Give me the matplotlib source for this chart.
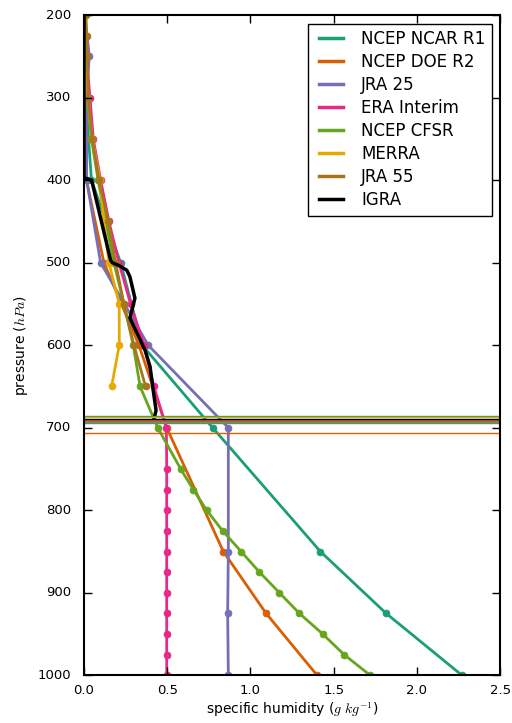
import numpy as np
import matplotlib
matplotlib.use("Agg")
import matplotlib.pyplot as plt
from matplotlib.lines import Line2D

# Dataset names and colours (legend order)
names = ['NCEP NCAR R1', 'NCEP DOE R2', 'JRA 25', 'ERA Interim',
         'NCEP CFSR', 'MERRA', 'JRA 55', 'IGRA']
colors = ['#1b9e77', '#d95f02', '#7570b3', '#e7298a',
          '#66a61e', '#e6ab02', '#a6761d', 'black']

# Specific humidity profiles (g/kg) on pressure levels (hPa)
p_r1 = [1000, 925, 850, 700, 600, 500, 400, 300]
q_r1 = [2.27, 1.815, 1.42, 0.773, 0.35, 0.22, 0.045, 0.01]

p_r2 = [1000, 925, 850, 700, 600, 500, 400, 300]
q_r2 = [1.40, 1.094, 0.837, 0.497, 0.33, 0.12, 0.015, 0.005]

p_jra25 = [1000, 925, 850, 700, 600, 500, 400, 300, 250, 200]
q_jra25 = [0.867, 0.863, 0.867, 0.867, 0.386, 0.10, 0.016, 0.015, 0.032, 0.005]

p_era = [1000, 975, 950, 925, 900, 875, 850, 825, 800, 775, 750, 700,
         650, 600, 550, 500, 450, 400, 350, 300, 250, 225, 200]
q_era = [0.497, 0.497, 0.497, 0.497, 0.497, 0.497, 0.497, 0.497, 0.497, 0.497, 0.497, 0.495,
         0.42, 0.36, 0.28, 0.21, 0.15, 0.10, 0.056, 0.036, 0.015, 0.01, 0.005]

p_cfsr = [1000, 975, 950, 925, 900, 875, 850, 825, 800, 775, 750, 700,
          650, 600, 550, 500, 450, 400, 350, 300, 250, 200]
q_cfsr = [1.719, 1.5625, 1.434, 1.294, 1.174, 1.054, 0.944, 0.833, 0.737, 0.657, 0.581, 0.443,
          0.337, 0.296, 0.24, 0.18, 0.13, 0.085, 0.045, 0.02, 0.01, 0.005]

p_merra = [650, 600, 550, 500, 450, 400, 350, 300, 250, 200]
q_merra = [0.166, 0.212, 0.212, 0.15, 0.12, 0.096, 0.05, 0.025, 0.01, 0.005]

p_jra55 = [650, 600, 550, 500, 450, 400, 350, 300, 250, 225, 200]
q_jra55 = [0.37, 0.30, 0.24, 0.19, 0.146, 0.09, 0.05, 0.025, 0.02, 0.016, 0.012]

p_igra = [200, 397, 400, 497, 500, 503, 509, 517, 543, 567, 580, 606, 626, 655, 679, 689]
q_igra = [0.0, 0.0, 0.046, 0.16, 0.17, 0.206, 0.257, 0.276, 0.306, 0.276, 0.306, 0.367,
          0.397, 0.416, 0.433, 0.421]

# Surface pressure of each dataset (hPa)
p_surface = [685.2, 705.8, 694.2, 691.8, 693.0, 687.3, 690.5, 688.9]

profiles = [(q_r1, p_r1), (q_r2, p_r2), (q_jra25, p_jra25), (q_era, p_era),
            (q_cfsr, p_cfsr), (q_merra, p_merra), (q_jra55, p_jra55)]

plt.style.use('classic')
fig = plt.figure(figsize=(5.12, 7.23), dpi=100, facecolor='white')
ax = fig.add_axes([0.164, 0.066, 0.813, 0.913])

for (q, p), c in zip(profiles, colors[:-1]):
    ax.plot(q, p, color=c, lw=2, marker='o', ms=5, mec=c, mfc=c)
ax.plot(q_igra, p_igra, color='black', lw=2.5)

for ps, c in zip(p_surface, colors):
    ax.axhline(ps, color=c, lw=1)

ax.set_xlim(0, 2.5)
ax.set_ylim(1000, 200)
ax.set_xticks(np.arange(0, 2.51, 0.5))
ax.set_yticks(np.arange(200, 1001, 100))
ax.tick_params(labelsize=9.5, length=6, width=1, direction='in', top=True, right=True)
ax.tick_params(axis='y', pad=9)
ax.tick_params(axis='x', pad=6)
for s in ax.spines.values():
    s.set_linewidth(1.5)

ax.set_xlabel(r'specific humidity ($g\ kg^{-1}$)', fontsize=10, labelpad=3)
ax.set_ylabel(r'pressure ($hPa$)', fontsize=10, labelpad=6)

handles = [Line2D([], [], color=c, lw=2.5) for c in colors]
ax.legend(handles, names, loc='upper right', fontsize=12, frameon=True,
          fancybox=False, handlelength=2, borderaxespad=0.5, labelspacing=0.3)

fig.savefig('out.png', dpi=100, facecolor='white')
